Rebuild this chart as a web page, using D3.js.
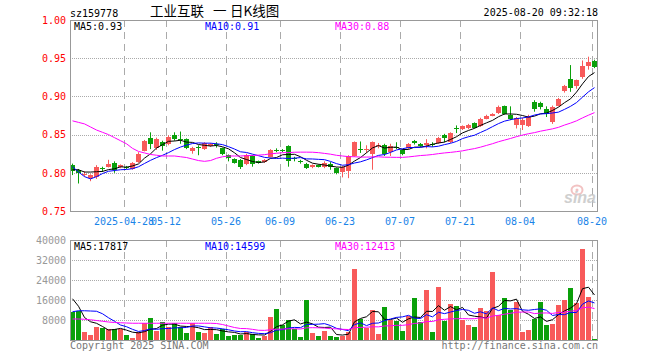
<!DOCTYPE html>
<html>
<head>
<meta charset="utf-8">
<script src="https://cdn.jsdelivr.net/npm/d3@7"></script>
<style>
body { margin: 0; background: #fff; }
svg { display: block; }
text { font-family: "DejaVu Sans Mono", monospace; font-size: 10px; }
.title { font-family: "Noto Sans CJK SC", sans-serif; font-size: 13.5px; }
</style>
</head>
<body>
<div id="chart"></div>
<script>
// daily candles, 2025-04-15 .. 2025-08-20
var dates = ['04-15','04-16','04-17','04-18','04-21','04-22','04-23','04-24','04-25','04-28',
    '04-29','04-30','05-06','05-07','05-08','05-09','05-12','05-13','05-14','05-15',
    '05-16','05-19','05-20','05-21','05-22','05-23','05-26','05-27','05-28','05-29',
    '05-30','06-03','06-04','06-05','06-06','06-09','06-10','06-11','06-12','06-13',
    '06-16','06-17','06-18','06-19','06-20','06-23','06-24','06-25','06-26','06-27',
    '06-30','07-01','07-02','07-03','07-04','07-07','07-08','07-09','07-10','07-11',
    '07-14','07-15','07-16','07-17','07-18','07-21','07-22','07-23','07-24','07-25',
    '07-28','07-29','07-30','07-31','08-01','08-04','08-05','08-06','08-07','08-08',
    '08-11','08-12','08-13','08-14','08-15','08-18','08-19','08-20'];

var opens = [.810,.804,.797,.793,.794,.806,.808,.813,.807,.808, .805,.814,.829,.846,.832,.840,.838,.850,.844,.844,
    .828,.834,.831,.835,.838,.832,.823,.818,.817,.811, .822,.815,.814,.821,.830,.830,.835,.820,.815,.812,
    .807,.810,.807,.812,.806,.801,.802,.822,.831,.830, .824,.835,.837,.827,.834,.830,.832,.841,.838,.836,
    .838,.839,.849,.840,.859,.857,.858,.865,.861,.871, .875,.878,.887,.876,.862,.863,.861,.893,.891,.884,
    .866,.888,.907,.923,.913,.925,.940,.946];
var highs = [.812,.805,.802,.798,.810,.808,.817,.815,.811,.809, .814,.827,.843,.853,.846,.842,.849,.853,.854,.845,
    .834,.836,.840,.839,.840,.833,.824,.819,.818,.825, .823,.816,.818,.831,.832,.831,.836,.821,.817,.813,
    .811,.811,.815,.814,.807,.809,.823,.841,.841,.836, .841,.839,.838,.838,.840,.831,.839,.843,.839,.844,
    .840,.847,.851,.853,.862,.862,.864,.866,.872,.876, .878,.888,.888,.887,.873,.872,.876,.895,.893,.887,
    .888,.898,.915,.941,.922,.947,.952,.948];
var lows = [.797,.786,.795,.789,.792,.801,.807,.800,.806,.805, .804,.813,.828,.831,.830,.829,.836,.842,.838,.831,
    .825,.823,.830,.834,.833,.823,.815,.812,.805,.810, .808,.812,.813,.820,.827,.827,.808,.815,.812,.805,
    .806,.807,.806,.804,.798,.794,.793,.821,.826,.826, .804,.832,.822,.822,.831,.823,.831,.837,.834,.832,
    .834,.838,.840,.839,.852,.856,.857,.858,.860,.870, .874,.877,.876,.869,.858,.856,.860,.880,.883,.873,
    .864,.887,.905,.906,.910,.923,.935,.937];
var closes = [.803,.800,.799,.797,.808,.805,.812,.804,.810,.806, .813,.825,.842,.838,.844,.835,.847,.844,.843,.832,
    .833,.833,.839,.838,.836,.824,.820,.813,.807,.823, .811,.813,.817,.830,.829,.829,.815,.818,.814,.806,
    .810,.808,.813,.807,.800,.808,.822,.840,.830,.831, .840,.837,.824,.835,.832,.824,.838,.839,.835,.839,
    .836,.846,.845,.852,.857,.861,.862,.859,.871,.874, .877,.886,.877,.871,.872,.869,.875,.884,.886,.877,
    .886,.897,.913,.911,.921,.940,.945,.939];
var volumes = [11200,11700,3070,2130,5330,4800,4530,4270,4270,1870, 670,3200,6670,8930,3470,7330,5330,6670,5070,2670,
    6800,3330,2930,5330,2270,4270,1470,1870,2130,3200, 2400,670,1600,9330,12530,6130,8130,4270,1070,16130,
    2670,1470,3730,1730,1330,1600,3200,28530,8400,4800, 12130,2530,13330,8130,7730,3730,9470,16930,7200,20130,
    3330,21070,7730,14530,13730,8130,5870,5330,12930,11730, 27330,10130,16930,12130,15200,3070,4130,8530,15330,6130,
    6530,14130,16130,20930,14930,36530,17070,530];

// moving averages before a full window is available
var ma5Head = [.804,.804,.801,.801];
var ma10Head = [.808,.801,.795,.792,.795,.799,.802,.803,.804];
var ma30Head = [.868,.866,.864,.860,.856,.853,.850,.846,.842,.838,.832,.828,.826,.824,.823,.822,.822,.822,
    .821,.820,.818,.816,.815,.816,.819,.821,.822,.822,.822];
var vma5Head = [16500,13500,9000,7300];
var vma10Head = [11300,11700,11700,11600,11500,10500,8900,7500,6000];
var vma30Head = [8400,8400,8300,8100,7800,7500,7200,7000,6900,6800,6700,6700,6700,6700,6700,6700,6700,6700,
    6700,6700,6700,6700,6700,6700,6600,6200,5600,5000,4600];

var priceTicks = [0.75, 0.80, 0.85, 0.90, 0.95, 1.00];
var volTicks = [8000, 16000, 24000, 32000, 40000];
var tickDates = ['04-28','05-12','05-26','06-09','06-23','07-07','07-21','08-04','08-20'];
var tickLabels = ['2025-04-28','05-12','05-26','06-09','06-23','07-07','07-21','08-04','08-20'];
var priceLegend = ['0.93', '0.91', '0.88'];
var volLegend = ['17817', '14599', '12413'];
var titleParts = ['工业互联', '一', '日K线图'];

var width = 660, height = 360,
    left = 70, right = 598,
    pTop = 20, pBottom = 211,
    vTop = 240, vBottom = 340,
    upColor = '#f85a5a', downColor = '#0aa00a',
    maColors = ['#000000', '#0000ff', '#ff00ff'];

var svg = d3.select('#chart').append('svg')
    .attr('width', width)
    .attr('height', height);

var x = d3.scaleBand().domain(dates).range([left, right]);
var yPrice = d3.scaleLinear().domain([0.75, 1.00]).range([pBottom, pTop]);
var yVol = d3.scaleLinear().domain([0, 40000]).range([vBottom, vTop]);
var half = 2.5;

function movingAvg(values, n, head) {
    return values.map(function (v, i) {
        if (i < n - 1) return head[i];
        return d3.mean(values.slice(i - n + 1, i + 1));
    });
}

function isUp(i) { return closes[i] >= opens[i]; }

// grid
function grid(top, bottom, scale, ticks) {
    svg.append('g').selectAll('line').data(tickDates).enter().append('line')
        .attr('x1', function (d) { return x(d) + 0.5; })
        .attr('x2', function (d) { return x(d) + 0.5; })
        .attr('y1', top).attr('y2', bottom)
        .attr('stroke', '#aaa')
        .attr('stroke-dasharray', '7,5');
    svg.append('g').selectAll('line').data(ticks).enter().append('line')
        .attr('x1', left).attr('x2', right)
        .attr('y1', function (d) { return Math.round(scale(d)) + 0.5; })
        .attr('y2', function (d) { return Math.round(scale(d)) + 0.5; })
        .attr('stroke', '#aaa')
        .attr('stroke-dasharray', '1,1');
}
grid(pTop, pBottom, yPrice, priceTicks.slice(1, -1));
grid(vTop, vBottom, yVol, volTicks.slice(0, -1));

// candles
var candles = svg.append('g').selectAll('g').data(dates).enter().append('g')
    .attr('fill', function (d, i) { return isUp(i) ? upColor : downColor; })
    .attr('stroke', function (d, i) { return isUp(i) ? upColor : downColor; });

candles.append('line')
    .attr('x1', function (d) { return x(d) + half; })
    .attr('x2', function (d) { return x(d) + half; })
    .attr('y1', function (d, i) { return yPrice(highs[i]); })
    .attr('y2', function (d, i) { return yPrice(lows[i]); });

candles.append('rect')
    .attr('stroke', 'none')
    .attr('shape-rendering', 'crispEdges')
    .attr('x', function (d) { return x(d); })
    .attr('width', 5)
    .attr('y', function (d, i) { return yPrice(Math.max(opens[i], closes[i])); })
    .attr('height', function (d, i) {
        return Math.max(1, Math.abs(yPrice(opens[i]) - yPrice(closes[i])));
    });

// volume bars
svg.append('g').selectAll('rect').data(dates).enter().append('rect')
    .attr('shape-rendering', 'crispEdges')
    .attr('x', function (d) { return x(d); })
    .attr('width', 5)
    .attr('y', function (d, i) { return yVol(volumes[i]); })
    .attr('height', function (d, i) { return vBottom - yVol(volumes[i]); })
    .attr('fill', function (d, i) { return isUp(i) ? upColor : downColor; });

// moving average lines
var priceMAs = [movingAvg(closes, 5, ma5Head), movingAvg(closes, 10, ma10Head), movingAvg(closes, 30, ma30Head)];
var volMAs = [movingAvg(volumes, 5, vma5Head), movingAvg(volumes, 10, vma10Head), movingAvg(volumes, 30, vma30Head)];

function maLines(series, scale) {
    var line = d3.line()
        .x(function (d, i) { return x(dates[i]) + half; })
        .y(function (d) { return scale(d); });
    svg.append('g').selectAll('path').data(series).enter().append('path')
        .attr('d', line)
        .attr('fill', 'none')
        .attr('stroke-width', 1)
        .attr('stroke', function (d, i) { return maColors[i]; });
}
maLines(priceMAs, yPrice);
maLines(volMAs, yVol);

// frames
[[pTop, pBottom], [vTop, vBottom]].forEach(function (p) {
    svg.append('rect')
        .attr('x', left + 0.5).attr('y', p[0] + 0.5)
        .attr('width', right - left - 1).attr('height', p[1] - p[0])
        .attr('fill', 'none')
        .attr('stroke', '#999');
});

// axes
var yAxisP = svg.append('g')
    .attr('transform', 'translate(' + left + ',0)')
    .call(d3.axisLeft(yPrice).tickValues(priceTicks).tickFormat(d3.format('.2f')).tickSize(0).tickPadding(4));
yAxisP.select('.domain').remove();
yAxisP.selectAll('text').attr('fill', '#ff0000');

var yAxisV = svg.append('g')
    .attr('transform', 'translate(' + left + ',0)')
    .call(d3.axisLeft(yVol).tickValues(volTicks).tickFormat(d3.format('d')).tickSize(0).tickPadding(4));
yAxisV.select('.domain').remove();
yAxisV.selectAll('text').attr('fill', '#999');

var xAxis = svg.append('g')
    .attr('transform', 'translate(' + (-x.bandwidth() / 2) + ',' + pBottom + ')')
    .call(d3.axisBottom(x).tickValues(tickDates)
        .tickFormat(function (d) { return tickLabels[tickDates.indexOf(d)]; })
        .tickSize(0).tickPadding(7));
xAxis.select('.domain').remove();
xAxis.selectAll('text').attr('fill', '#1a84e8');

// legends
var legendX = [74, 205, 335], maNames = ['MA5:', 'MA10:', 'MA30:'];
maNames.forEach(function (name, i) {
    svg.append('text').attr('x', legendX[i]).attr('y', 30)
        .attr('fill', maColors[i]).text(name + priceLegend[i]);
    svg.append('text').attr('x', legendX[i]).attr('y', 250)
        .attr('fill', maColors[i]).text(name + volLegend[i]);
});

// titles
svg.append('text').attr('x', 70).attr('y', 16.5).text('sz159778');
var title = svg.append('text').attr('class', 'title').attr('y', 16);
var titleX = [150, 213, 230];
titleParts.forEach(function (t, i) {
    title.append('tspan').attr('x', titleX[i]).text(t);
});
svg.append('text').attr('x', 598).attr('y', 16).attr('text-anchor', 'end').text('2025-08-20 09:32:18');
svg.append('text').attr('x', 70).attr('y', 349).attr('fill', '#777').text('Copyright 2025 SINA.COM');
svg.append('text').attr('x', 598).attr('y', 349).attr('fill', '#777').attr('text-anchor', 'end')
    .text('http://finance.sina.com.cn');

// sina watermark
var mark = svg.append('g').attr('opacity', 0.8);
mark.append('ellipse').attr('cx', 577).attr('cy', 190).attr('rx', 5.5).attr('ry', 4.5)
    .attr('fill', 'none').attr('stroke', '#f0b4b4').attr('stroke-width', 2);
mark.append('circle').attr('cx', 577).attr('cy', 190).attr('r', 1.5).attr('fill', '#f0b4b4');
mark.append('text').attr('x', 564).attr('y', 203)
    .style('font-family', '"Liberation Sans", sans-serif')
    .style('font-size', '16px').style('font-weight', 'bold').style('font-style', 'italic')
    .attr('fill', '#c4c4c4').text('sina');
</script>
</body>
</html>
